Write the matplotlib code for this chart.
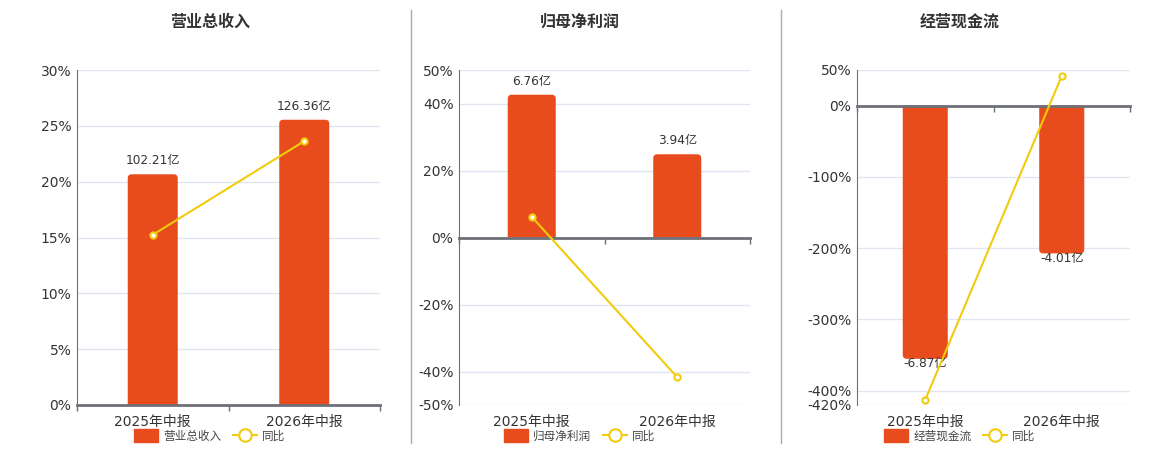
import numpy as np
import matplotlib
matplotlib.use('Agg')
import matplotlib.pyplot as plt
from matplotlib.patches import Patch, PathPatch
from matplotlib.path import Path
from matplotlib.lines import Line2D

plt.rcParams['font.family'] = ['DejaVu Sans', 'Noto Sans CJK SC']

# data
categories = ['2025年中报', '2026年中报']
titles = ['营业总收入', '归母净利润', '经营现金流']
revenue = [102.21, 126.36]        # 亿
revenue_yoy = [15.24, 23.63]      # %
profit = [6.76, 3.94]
profit_yoy = [6.18, -41.72]
cashflow = [-6.87, -4.01]
cashflow_yoy = [-412.6, 41.63]

pct_ticks = [
    [0, 5, 10, 15, 20, 25, 30],
    [-50, -40, -20, 0, 20, 40, 50],
    [-420, -400, -300, -200, -100, 0, 50],
]
pct_lims = [(0, 30), (-50, 50), (-420, 50)]
bar_lims = [(0, 148.4), (-7.93, 7.93), (-8.124, 0.967)]

bars = [revenue, profit, cashflow]
yoys = [revenue_yoy, profit_yoy, cashflow_yoy]

BAR = '#e84b1c'
LINE = '#f2cb0c'
AXC = '#6e7079'
GRID = '#e0e6f1'
TXT = '#333333'

fig = plt.figure(figsize=(11.6, 4.5), dpi=100)

ax_boxes = [(77, 380), (459, 750), (857, 1130)]
centers = [210, 580, 960]
AX_H = 335


def round_bar(ax, rect, w_px, h_px, r_px=4):
    # replace a bar rectangle by one with rounded outer corners
    x0 = rect.get_x()
    x1 = x0 + rect.get_width()
    base = rect.get_y()
    top = base + rect.get_height()   # "top" is the outer end, may be below base
    xl, xr = ax.get_xlim()
    yb, yt = ax.get_ylim()
    rx = r_px * (xr - xl) / w_px
    ry = r_px * (yt - yb) / h_px
    s = 1 if top >= base else -1
    verts = [(x0, base), (x0, top - s * ry), (x0, top), (x0 + rx, top),
             (x1 - rx, top), (x1, top), (x1, top - s * ry), (x1, base), (x0, base)]
    codes = [Path.MOVETO, Path.LINETO, Path.CURVE3, Path.CURVE3,
             Path.LINETO, Path.CURVE3, Path.CURVE3, Path.LINETO, Path.CLOSEPOLY]
    ax.add_patch(PathPatch(Path(verts, codes), facecolor=rect.get_facecolor(),
                           edgecolor='none', zorder=2))
    rect.set_visible(False)


for i in range(3):
    l, r = ax_boxes[i]
    ax = fig.add_axes([l / 1160, 45 / 450, (r - l) / 1160, AX_H / 450])
    ax.set_ylim(*pct_lims[i])
    ax.set_xlim(-0.5, 1.5)
    ax.set_yticks(pct_ticks[i])
    ax.set_yticklabels([f'{t}%' for t in pct_ticks[i]])
    ax.yaxis.grid(True, color=GRID, lw=1)
    ax.set_axisbelow(True)
    for s in ['top', 'right', 'bottom']:
        ax.spines[s].set_visible(False)
    ax.spines['left'].set_color(AXC)
    ax.tick_params(axis='y', length=0, pad=4, labelsize=10, labelcolor=TXT)
    ax.set_xticks([0, 1])
    ax.set_xticklabels(categories)
    ax.tick_params(axis='x', length=0, pad=7, labelsize=10, labelcolor=TXT)

    # bars on hidden axis
    ax2 = ax.twinx()
    ax2.set_ylim(*bar_lims[i])
    ax2.set_xlim(-0.5, 1.5)
    ax2.axis('off')
    x = np.arange(len(categories))
    cont = ax2.bar(x, bars[i], width=0.33, color=BAR, zorder=2)
    for rect in cont.patches:
        round_bar(ax2, rect, r - l, AX_H)
    for xi, v in zip(x, bars[i]):
        if v >= 0:
            ax2.annotate(f'{v:.2f}亿', (xi, v), xytext=(0, 5), textcoords='offset points',
                         ha='center', va='bottom', fontsize=8.7, color=TXT, zorder=3)
        else:
            ax2.annotate(f'{v:.2f}亿', (xi, v), xytext=(0, 1), textcoords='offset points',
                         ha='center', va='top', fontsize=8.7, color=TXT, zorder=3)

    # zero line + yoy line on top
    ax3 = ax.twinx()
    ax3.set_ylim(*pct_lims[i])
    ax3.set_xlim(-0.5, 1.5)
    ax3.axis('off')
    ax3.axhline(0, color=AXC, lw=2, zorder=2, clip_on=False)
    ax3.plot([-0.5, 0.5, 1.5], [0, 0, 0], ls='none', marker=3, ms=4, mew=1,
             color=AXC, clip_on=False, zorder=2)
    ax3.plot(x, yoys[i], color=LINE, lw=1.5, marker='o', ms=4.5,
             mfc='white', mec=LINE, mew=1.5, zorder=4)

    fig.text(centers[i] / 1160, 1 - 22 / 450, titles[i], ha='center', va='center',
             fontsize=11.5, fontweight='bold', color=TXT)

    handles = [Patch(facecolor=BAR, edgecolor=BAR),
               Line2D([], [], color=LINE, lw=1.5, marker='o', ms=9,
                      mfc='white', mec=LINE, mew=1.5)]
    fig.legend(handles, [titles[i], '同比'], loc='center', ncol=2,
               bbox_to_anchor=(centers[i] / 1160, 1 - 436 / 450), frameon=False,
               fontsize=8.4, handlelength=2.0, handleheight=1.25, handletextpad=0.5,
               columnspacing=1.0, labelcolor='#444444', borderpad=0)

# separators
for sx in [410.5, 780.5]:
    fig.add_artist(Line2D([sx / 1160, sx / 1160], [1 - 10 / 450, 1 - 443 / 450],
                          color='#aaaaaa', lw=1))

fig.savefig('out.png', dpi=100)
